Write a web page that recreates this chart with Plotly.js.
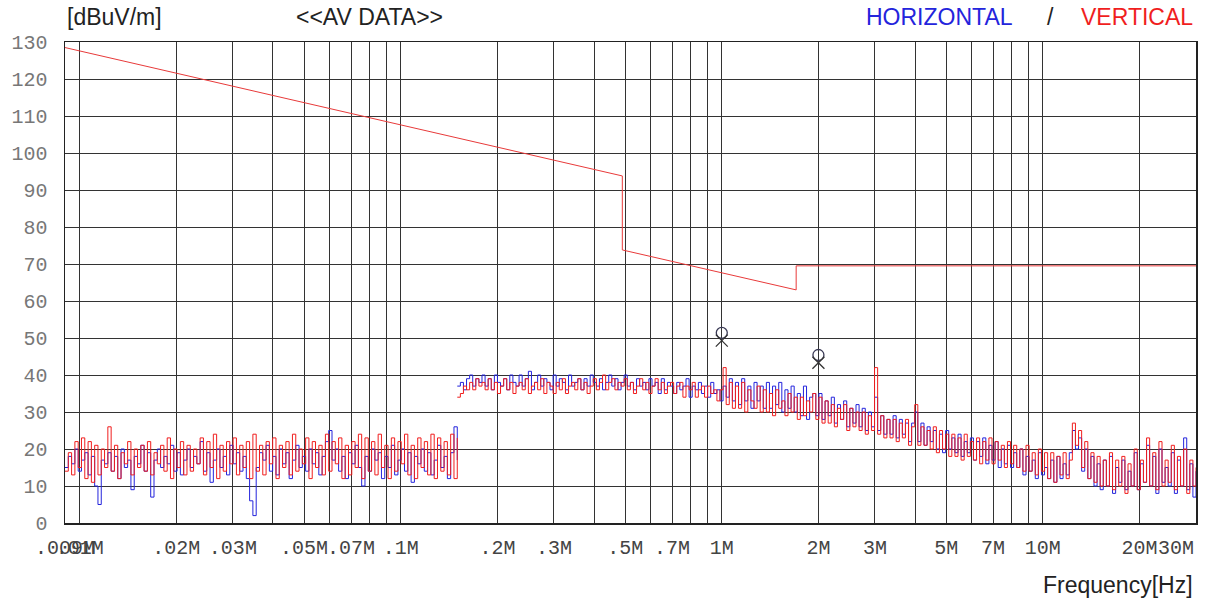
<!DOCTYPE html>
<html>
<head>
<meta charset="utf-8">
<script src="https://cdn.plot.ly/plotly-3.0.1.min.js"></script>
<style>html,body{margin:0;padding:0;background:#fff;}#chart{width:1206px;height:602px;}</style>
</head>
<body>
<div id="chart"></div>
<script>
// Sweep bands (MHz)
const bandA = [0.009, 0.15];
const bandB = [0.15, 30];

// Band A (9 kHz - 150 kHz) levels, dBuV/m
const horizA = [15,18,16,20,14,17,19,13,18,10,5,17,16,19,14,18,12,20,15,17,9,18,16,21,14,19,7,17,20,15,18,16,21,14,19,13,17,20,15,18,16,22,14,19,11,17,20,15,18,13,21,16,19,14,18,12,6,2,15,19,17,21,14,18,13,20,16,19,12,17,21,15,18,14,20,16,19,13,18,22,25,17,20,14,18,12,19,16,21,15,10,18,14,20,17,19,12,18,15,21,13,17,20,14,19,11,18,16,20,14,19,13,17,21,15,18,12,19,26,17];
const vertA = [14,19,13,22,15,23,12,22,11,21,13,20,15,26,14,21,12,19,16,22,13,20,15,21,14,22,13,19,16,21,14,23,12,20,15,22,13,21,14,20,16,23,13,22,15,24,12,21,14,22,16,23,13,21,15,22,12,24,14,21,13,22,16,23,12,21,15,22,13,24,14,20,16,23,12,22,15,21,13,24,14,22,16,23,12,21,13,22,15,24,12,23,14,22,13,24,15,21,12,23,14,22,16,24,13,21,12,23,15,22,13,24,12,23,14,22,13,24,12,23];

// Band B (150 kHz - 30 MHz) levels, dBuV/m
const horizB = [37,38,36,39,40,37,39,38,40,37, 39,36,40,38,37,39,36,40,38,37, 40,37,39,41,36,38,40,37,39,38, 36,40,37,39,38,36,40,37,38,39,
 36,39,37,40,38,37,39,36,38,40, 37,39,36,38,40,37,38,36,39,37, 38,36,39,37,38,35,39,36,38,37, 35,38,36,37,39,34,37,36,38,35,
 37,34,38,35,36,33,37,34,39,33, 38,32,39,33,37,31,38,33,37,31, 38,31,37,32,38,30,36,31,37,30, 35,29,37,28,34,35,29,35,28,33,
 29,34,27,32,28,33,26,31,27,32, 26,31,25,30,26,34,25,29,24,28, 24,29,23,28,24,27,22,27,30,22, 27,21,26,22,25,20,24,19,25,20,
 23,19,24,18,22,19,23,17,22,18, 23,16,21,17,22,15,20,16,21,15, 19,15,20,13,18,14,17,12,19,13, 15,12,17,11,18,12,16,13,19,25,
 20,23,14,20,12,18,10,16,9,17, 10,18,8,15,11,17,9,14,10,19, 9,16,11,21,10,18,8,20,11,15, 10,19,8,17,10,23,9,16,7,14];
const vertB = [34,35,37,36,38,36,39,37,38,36, 39,36,38,35,37,39,36,38,35,37, 38,36,39,35,37,38,36,39,35,38, 37,35,38,36,39,35,37,38,36,39,
 36,38,35,37,39,36,38,40,36,38, 39,36,38,37,39,36,38,35,37,39, 36,38,35,37,39,36,38,35,37,38, 35,37,38,34,37,36,38,34,36,37,
 34,37,35,36,33,36,42,32,38,31, 37,31,38,30,36,33,31,37,30,36, 30,35,29,36,31,33,29,35,30,34, 28,34,29,33,30,35,28,34,27,33,
 27,32,26,31,28,32,25,31,26,30, 25,30,24,29,25,42,24,29,23,28, 23,28,22,27,23,28,21,26,32,21, 26,21,25,20,26,19,25,20,24,18,
 24,18,23,17,24,18,22,17,23,16, 22,17,23,16,22,17,21,15,22,16, 21,15,20,14,21,14,19,13,20,14, 19,12,19,11,18,13,19,12,17,27,
 21,25,15,22,12,19,11,18,10,17, 10,19,9,17,10,18,8,16,10,20, 9,17,11,23,10,19,9,22,10,17, 11,21,9,18,10,20,8,17,10,15];

// Limit line (FCC 15.209 at 3 m)
const limitFreq = [0.009, 0.49, 0.49, 1.705, 1.705, 30];
const limitLevel = [128.5, 93.8, 73.8, 63.0, 69.5, 69.5];

// Peak markers
const peakFreq = [1, 2];
const peakHoriz = [51.4, 45.4];
const peakVert = [49.3, 43.3];

// Axis ticks (the last label sits at the plot's right edge, drawn as an annotation)
const gridVals = [0.009,0.01,0.02,0.03,0.04,0.05,0.06,0.07,0.08,0.09,0.1,0.2,0.3,0.4,0.5,0.6,0.7,0.8,0.9,1,2,3,4,5,6,7,8,9,10,20,30];
const gridText = ['.009M','.01M','.02M','.03M','','.05M','','.07M','','','.1M','.2M','.3M','','.5M','','.7M','','','1M','2M','3M','','5M','','7M','','','10M','20M',''];
const edgeLabel = '30M';
const yVals = [0,10,20,30,40,50,60,70,80,90,100,110,120,130];

function sweep(band, n) {
  const out = [];
  for (let i = 0; i < n; i++) out.push(band[0] * Math.pow(band[1] / band[0], i / (n - 1)));
  return out;
}

const BLUE = '#2424dc', RED = '#f01e1e';
const traces = [
  {x: sweep(bandA, horizA.length), y: horizA, mode: 'lines', line: {color: BLUE, width: 1, shape: 'hv'}},
  {x: sweep(bandB, horizB.length), y: horizB, mode: 'lines', line: {color: BLUE, width: 1, shape: 'hv'}},
  {x: sweep(bandA, vertA.length), y: vertA, mode: 'lines', line: {color: RED, width: 1, shape: 'hv'}},
  {x: sweep(bandB, vertB.length), y: vertB, mode: 'lines', line: {color: RED, width: 1, shape: 'hv'}},
  {x: limitFreq, y: limitLevel, mode: 'lines', line: {color: '#e83a3a', width: 1}},
  {x: peakFreq, y: peakHoriz, mode: 'markers', marker: {symbol: 'circle-open', size: 11, color: '#3a3a55', line: {width: 1.3}}},
  {x: peakFreq, y: peakVert, mode: 'markers', marker: {symbol: 'x-thin-open', size: 12, color: '#333', line: {width: 1.3, color: '#333'}}}
];

const hdr = {family: 'Liberation Sans, Arial, sans-serif', size: 23, color: '#222'};
const tickFont = {family: 'Liberation Mono, Courier New, monospace', size: 20, color: '#444'};
const layout = {
  width: 1206, height: 602,
  margin: {l: 65, r: 10, t: 42, b: 79},
  paper_bgcolor: '#fff', plot_bgcolor: '#fff',
  showlegend: false,
  xaxis: {
    type: 'log', range: [Math.log10(0.009), Math.log10(30)],
    tickmode: 'array', tickvals: gridVals, ticktext: gridText, tickangle: 0,
    showgrid: true, gridcolor: '#333', gridwidth: 1,
    showline: true, linecolor: '#222', linewidth: 1.5, mirror: true,
    ticks: '', zeroline: false,
    tickfont: tickFont,
    ticklabelstandoff: 5
  },
  yaxis: {
    range: [0, 130], tickmode: 'array', tickvals: yVals,
    showgrid: true, gridcolor: '#333', gridwidth: 1,
    showline: true, linecolor: '#222', linewidth: 1.5, mirror: true,
    ticks: '', zeroline: false,
    tickfont: {family: 'Liberation Mono, Courier New, monospace', size: 20, color: '#777'},
    ticklabelstandoff: 12
  },
  annotations: [
    {text: '[dBuV/m]', xref: 'paper', yref: 'paper', x: 0, y: 1.052, xanchor: 'left', yanchor: 'middle', showarrow: false, font: hdr},
    {text: '&lt;&lt;AV DATA&gt;&gt;', xref: 'paper', yref: 'paper', x: 0.2688, y: 1.052, xanchor: 'center', yanchor: 'middle', showarrow: false, font: hdr},
    {text: 'HORIZONTAL', xref: 'paper', yref: 'paper', x: 0.840, y: 1.052, xanchor: 'right', yanchor: 'middle', showarrow: false, font: Object.assign({}, hdr, {color: '#2424dc'})},
    {text: '/', xref: 'paper', yref: 'paper', x: 0.871, y: 1.052, xanchor: 'center', yanchor: 'middle', showarrow: false, font: hdr},
    {text: 'VERTICAL', xref: 'paper', yref: 'paper', x: 0.9991, y: 1.052, xanchor: 'right', yanchor: 'middle', showarrow: false, font: Object.assign({}, hdr, {color: '#f01e1e'})},
    {text: edgeLabel, xref: 'paper', yref: 'paper', x: 1.0, y: -0.052, xanchor: 'right', yanchor: 'middle', showarrow: false, font: tickFont},
    {text: 'Frequency[Hz]', xref: 'paper', yref: 'paper', x: 0.9991, y: -0.129, xanchor: 'right', yanchor: 'middle', showarrow: false, font: hdr}
  ]
};

Plotly.newPlot('chart', traces, layout, {staticPlot: true, displayModeBar: false});
</script>
</body>
</html>
